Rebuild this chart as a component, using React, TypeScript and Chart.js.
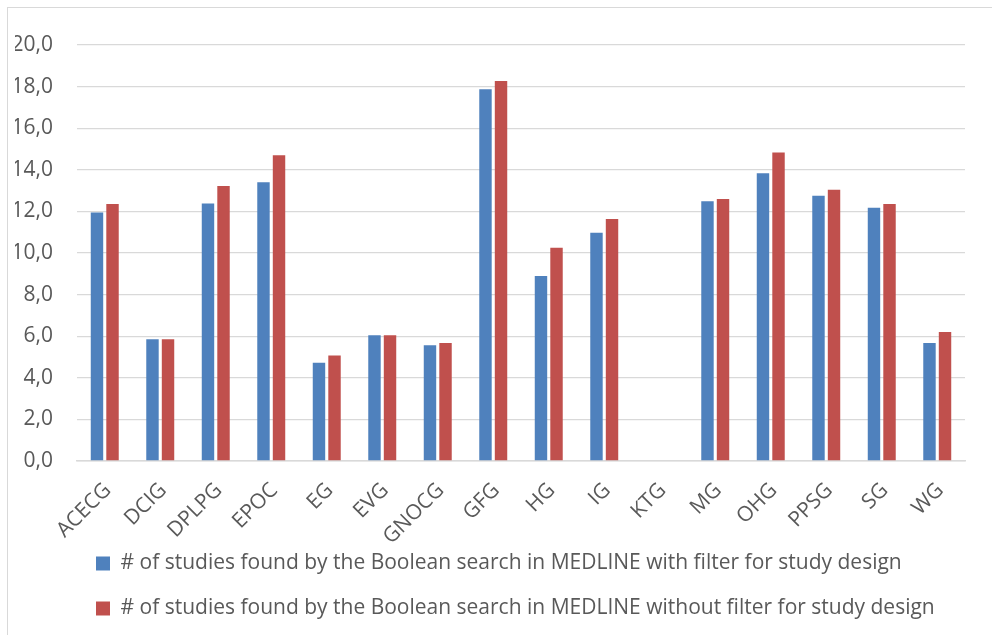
import React, { useEffect, useRef } from "react";
import { Chart, registerables } from "chart.js";

Chart.register(...registerables);

const categories = ["ACECG", "DCIG", "DPLPG", "EPOC", "EG", "EVG", "GNOCG", "GFG", "HG", "IG", "KTG", "MG", "OHG", "PPSG", "SG", "WG"];
const withFilter = [11.95, 5.85, 12.38, 13.4, 4.72, 6.05, 5.57, 17.87, 8.9, 10.97, null, 12.49, 13.83, 12.75, 12.17, 5.67];
const withoutFilter = [12.35, 5.85, 13.22, 14.7, 5.07, 6.05, 5.67, 18.27, 10.25, 11.64, null, 12.6, 14.83, 13.04, 12.35, 6.2];
const seriesNames = [
  "# of studies found by the Boolean search in MEDLINE with filter for study design",
  "# of studies found by the Boolean search in MEDLINE without filter for study design",
];
const yTicksMin = 0;
const yTicksMax = 20;
const yTicksStep = 2;

const FONT = "'Open Sans', 'DejaVu Sans', sans-serif";
const TEXT = "#595959";
const GRID = "#d9d9d9";
const LEGEND_LIFT = 20;

export default function App() {
  const ref = useRef<HTMLCanvasElement | null>(null);

  useEffect(() => {
    if (!ref.current) return;
    const legendTweak = {
      id: "legendTweak",
      beforeLayout(chart: any) {
        const lg = chart.legend;
        if (lg && !lg.__patched) {
          const orig = lg.fit.bind(lg);
          lg.fit = function () {
            orig();
            this.height -= LEGEND_LIFT;
          };
          lg.__patched = true;
        }
      },
      afterLayout(chart: any) {
        const lg = chart.legend;
        if (lg) {
          lg.left -= 5;
          lg.right -= 5;
          lg.top -= LEGEND_LIFT;
        }
      },
    };
    const chart = new Chart(ref.current, {
      type: "bar",
      data: {
        labels: categories,
        datasets: [
          { label: seriesNames[0], data: withFilter, backgroundColor: "#4f81bd", borderWidth: 0 },
          { label: seriesNames[1], data: withoutFilter, backgroundColor: "#c0504d", borderWidth: 0 },
        ],
      },
      options: {
        responsive: false,
        animation: false,
        categoryPercentage: 0.56,
        barPercentage: 0.8,
        layout: { padding: { top: 45, left: 15, right: 27, bottom: 6 } },
        plugins: {
          tooltip: { enabled: false },
          legend: {
            position: "bottom",
            align: "start",
            fullSize: false,
            labels: {
              boxWidth: 14,
              boxHeight: 14,
              padding: 24,
              color: TEXT,
              font: { family: FONT, size: 21 },
            },
          },
        },
        scales: {
          x: {
            afterFit: (s: any) => {
              s.height = 88;
            },
            grid: { display: false, drawTicks: false },
            border: { display: true, color: GRID, width: 1.5 },
            ticks: {
              color: TEXT,
              font: { family: FONT, size: 21 },
              maxRotation: 45,
              minRotation: 45,
              autoSkip: false,
              padding: 17,
              labelOffset: 3,
            },
          },
          y: {
            min: yTicksMin,
            max: yTicksMax,
            afterFit: (s: any) => {
              s.width = 62;
            },
            grid: { color: GRID, lineWidth: 1.3, drawTicks: false },
            border: { display: false },
            ticks: {
              stepSize: yTicksStep,
              color: TEXT,
              padding: 24,
              font: { family: FONT, size: 21 },
              callback: (v: any) => Number(v).toFixed(1).replace(".", ","),
            },
          },
        },
      },
      plugins: [legendTweak],
    });
    return () => chart.destroy();
  }, []);

  return (
    <div style={{ position: "fixed", left: 0, top: 0, width: 992, height: 635, overflow: "hidden", background: "#fff" }}>
      <div
        style={{
          position: "absolute",
          left: 7,
          top: 7,
          width: 1100,
          height: 800,
          borderTop: "1.5px solid #d9d9d9",
          borderLeft: "1.5px solid #d9d9d9",
        }}
      />
      <canvas ref={ref} width={992} height={635} style={{ position: "absolute", left: 0, top: 0, width: 992, height: 635 }} />
    </div>
  );
}
